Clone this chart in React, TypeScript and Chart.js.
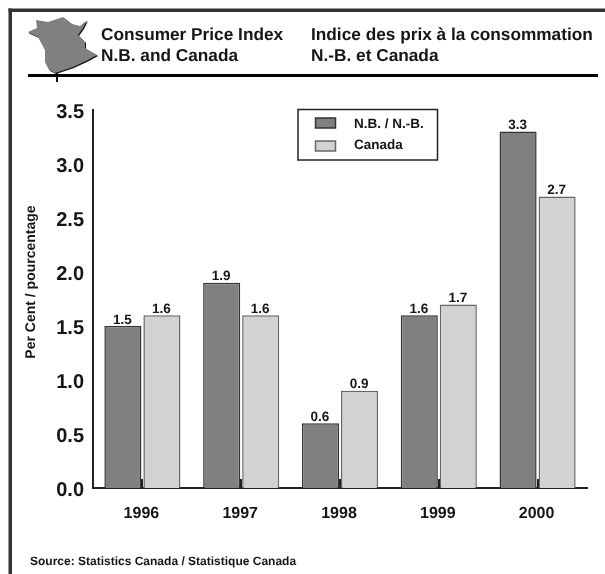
import React, { useEffect, useRef } from "react";
import { Chart, registerables } from "chart.js";

Chart.register(...registerables);

const years = ["1996", "1997", "1998", "1999", "2000"];
const nbValues = [1.5, 1.9, 0.6, 1.6, 3.3];
const canadaValues = [1.6, 1.6, 0.9, 1.7, 2.7];
const yTicks = [0, 0.5, 1, 1.5, 2, 2.5, 3, 3.5];
const nbLabel = "N.B. / N.-B.";
const canadaLabel = "Canada";
const titleEn = ["Consumer Price Index", "N.B. and Canada"];
const titleFr = ["Indice des prix à la consommation", "N.-B. et Canada"];
const yTitle = "Per Cent / pourcentage";
const source = "Source: Statistics Canada / Statistique Canada";
const mapOutline: [number, number][] = [
  [28, 32], [37, 28], [36, 20], [48, 22], [63, 17], [72, 24], [80, 26], [87, 20], [83, 28],
  [78, 35], [85, 42], [85, 48], [90, 51], [97, 55], [88, 60], [73, 67], [58, 72], [55, 73],
  [49, 70], [45, 62], [45, 50], [38, 37], [29, 33],
];

const FONT = "'Liberation Sans', Arial, sans-serif";
const INK = "#151515";

const decor = {
  id: "decor",
  beforeDraw(chart: any) {
    const c = chart.ctx;
    c.textRendering = "geometricPrecision";
    c.save();
    c.fillStyle = "#ffffff";
    c.fillRect(0, 0, 605, 574);
    c.fillStyle = "#333333";
    c.fillRect(8.5, 8.5, 596.5, 3.5);
    c.fillRect(8.5, 8.5, 3.5, 565.5);
    const path = (dx: number, dy: number) => {
      c.beginPath();
      mapOutline.forEach(([x, y], i) => (i ? c.lineTo(x + dx, y + dy) : c.moveTo(x + dx, y + dy)));
      c.closePath();
      c.fill();
    };
    c.fillStyle = "#111111";
    path(1, 1);
    c.fillRect(56, 73, 2, 9);
    c.fillStyle = "#808080";
    path(0, 0);
    c.fillStyle = "#000000";
    c.fillRect(28, 74, 570, 3);
    c.fillStyle = INK;
    c.textBaseline = "alphabetic";
    c.textAlign = "left";
    c.font = `bold 17.25px ${FONT}`;
    c.fillText(titleEn[0], 101, 40);
    c.fillText(titleEn[1], 101, 61);
    c.fillText(titleFr[0], 311, 40);
    c.fillText(titleFr[1], 311, 61);
    c.font = `bold 12px ${FONT}`;
    c.fillText(source, 30, 565);
    c.translate(35, 282);
    c.rotate(-Math.PI / 2);
    c.textAlign = "center";
    c.font = `bold 14px ${FONT}`;
    c.fillText(yTitle, 0, 0);
    c.restore();
  },
  afterDatasetsDraw(chart: any) {
    const c = chart.ctx;
    c.save();
    const xs = chart.scales.x;
    const bottom = chart.chartArea.bottom;
    // Inward tick marks
    c.fillStyle = "#222222";
    years.forEach((_, i) => {
      const x = xs.getPixelForTick(i);
      c.fillRect(Math.round(x) - 1, bottom - 9, 2, 9);
    });
    // Value labels
    c.fillStyle = INK;
    c.font = `bold 13.5px ${FONT}`;
    c.textAlign = "center";
    c.textBaseline = "alphabetic";
    chart.data.datasets.forEach((ds: any, di: number) => {
      chart.getDatasetMeta(di).data.forEach((bar: any, i: number) => {
        c.fillText(ds.data[i].toFixed(1), bar.x - 0.5, bar.y - 2.5);
      });
    });
    // Legend
    c.fillStyle = "#ffffff";
    c.fillRect(298, 109, 140, 51);
    c.strokeStyle = "#222222";
    c.lineWidth = 1.5;
    c.strokeRect(298, 109.5, 139.5, 50.5);
    chart.data.datasets.forEach((ds: any, di: number) => {
      const top = di === 0 ? 118 : 141;
      c.fillStyle = ds.backgroundColor;
      c.strokeStyle = ds.borderColor;
      c.lineWidth = 1.5;
      c.fillRect(315.5, top, 20, 10);
      c.strokeRect(315.5, top, 20, 10);
      c.fillStyle = INK;
      c.textAlign = "left";
      c.font = `bold 13.5px ${FONT}`;
      c.fillText(ds.label, 354, di === 0 ? 128 : 149);
    });
    c.restore();
  },
};

export default function App() {
  const ref = useRef<HTMLCanvasElement>(null);
  useEffect(() => {
    document.body.style.margin = "0";
    const chart = new Chart(ref.current!, {
      type: "bar",
      data: {
        labels: years,
        datasets: [
          { label: nbLabel, data: nbValues, backgroundColor: "#808080", borderColor: "#333333", borderWidth: 1.5 },
          { label: canadaLabel, data: canadaValues, backgroundColor: "#d1d2d4", borderColor: "#666666", borderWidth: 1.5 },
        ],
      },
      options: {
        responsive: false,
        animation: false,
        devicePixelRatio: 1,
        layout: { padding: { left: 0, right: 18, top: 110, bottom: 0 } },
        datasets: { bar: { categoryPercentage: 0.79, barPercentage: 0.95 } },
        plugins: { legend: { display: false }, tooltip: { enabled: false }, title: { display: false } },
        scales: {
          x: {
            grid: { display: false },
            border: { color: "#222222", width: 2 },
            ticks: { color: INK, font: { family: FONT, size: 16, weight: "bold" }, padding: 8, labelOffset: -1 },
            afterFit: (s: any) => { s.height = 86; },
          },
          y: {
            min: 0,
            max: 3.5,
            grid: { display: false },
            border: { color: "#222222", width: 2 },
            afterBuildTicks: (s: any) => { s.ticks = yTicks.map((value) => ({ value })); },
            ticks: {
              color: INK,
              font: { family: FONT, size: 20, weight: "bold" },
              padding: 1,
              labelOffset: 2,
              callback: (v: any) => Number(v).toFixed(1),
            },
            afterFit: (s: any) => { s.width = 93; },
          },
        },
      } as any,
      plugins: [decor],
    });
    return () => chart.destroy();
  }, []);
  return <canvas ref={ref} width={605} height={574} style={{ display: "block" }} />;
}
